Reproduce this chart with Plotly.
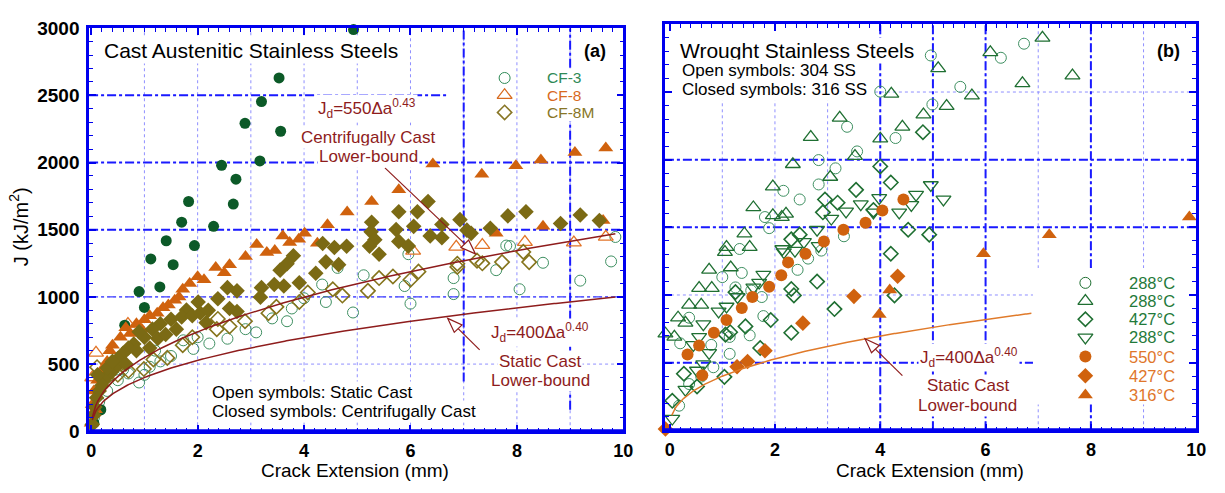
import numpy as np
import plotly.graph_objects as go

W, H = 1225, 493

# ---------------- panel (a): cast austenitic stainless steels ----------------
# CF-3, closed symbols (centrifugally cast)
cf3_c_x = [4.93, 3.85, 3.53, 3.20, 2.89, 3.56, 3.17, 2.45, 2.72, 2.67, 1.83, 1.70, 2.30,
           1.41, 1.94, 1.12, 1.54, 1.29, 0.90, 1.00, 0.63, 0.18, 0.05]
cf3_c_j = [2990, 2790, 2630, 2454, 2292, 2233, 2012, 1979, 1876, 1691, 1710, 1556, 1525,
           1418, 1382, 1283, 1240, 1074, 1040, 922, 789, 160, 60]

# CF-8, closed symbols
cf8_c_x = [6.42, 7.34, 7.98, 8.45, 9.09, 9.67, 5.78, 5.27, 4.81, 4.44, 4.01, 3.60, 3.73,
           3.11, 7.61, 8.49, 9.62, 2.34, 2.12, 1.72, 1.57, 1.24, 0.73, 0.40, 2.90, 2.60,
           3.30, 2.00, 1.85, 1.45, 1.10, 1.00, 0.85, 0.65, 0.55, 0.30, 0.20, 0.12, 0.05,
           0.02, 0.00, 0.08, 0.35, 0.95, 1.35, 1.65, 2.50, 3.90, 4.25, 3.45]
cf8_c_j = [1990, 1912, 1976, 2019, 2074, 2109, 1798, 1710, 1632, 1537, 1473, 1454, 1404,
           1390, 1473, 1525, 1568, 1218, 1128, 1057, 976, 879, 727, 641, 1300, 1240,
           1330, 1150, 1100, 940, 860, 830, 800, 770, 700, 520, 450, 380, 300,
           200, 60, 160, 600, 760, 920, 1000, 1180, 1430, 1400, 1345]

# CF-8M, closed symbols
cf8m_c_x = [6.33, 5.78, 6.13, 6.59, 6.06, 5.27, 5.73, 6.37, 6.59, 6.93, 7.06, 7.14, 7.50,
            7.83, 8.17, 8.82, 9.19, 9.55, 5.26, 5.33, 5.78, 4.35, 4.57, 4.80, 5.96, 5.41,
            5.23, 4.65, 4.41, 4.22, 3.80, 3.68, 3.55, 3.44, 3.91, 3.62, 3.20, 3.18, 2.74,
            2.56, 2.38, 2.74, 2.60, 2.16, 2.01, 1.79, 1.50, 1.30, 1.15, 1.00, 0.90, 0.80,
            0.70, 0.60, 0.50, 0.45, 0.35, 0.30, 0.25, 0.20, 0.15, 0.10, 0.07, 0.05, 0.02,
            0.12, 0.40, 0.65, 0.85, 1.10, 1.25, 1.40, 1.60, 1.70, 1.90, 2.05, 2.20]
cf8m_c_j = [1710, 1634, 1634, 1539, 1525, 1556, 1501, 1454, 1440, 1575, 1497, 1473, 1511,
            1603, 1634, 1546, 1610, 1568, 1484, 1425, 1413, 1397, 1368, 1377, 1378, 1318,
            1378, 1240, 1261, 1176, 1306, 1247, 1199, 1092, 1105, 1081, 1069, 998, 1045,
            1069, 986, 891, 914, 808, 962, 903, 834, 800, 760, 700, 740, 650,
            620, 580, 540, 470, 430, 470, 380, 340, 300, 250, 180, 120, 50,
            420, 520, 500, 600, 620, 690, 720, 760, 850, 860, 880, 900]

# CF-3, open symbols (static cast)
cf3_o_x = [9.77, 9.19, 8.49, 8.05, 7.87, 7.61, 6.81, 6.81, 6.00, 5.89, 5.96, 5.12, 4.92,
           4.63, 4.34, 4.41, 3.77, 3.68, 3.10, 2.56, 2.22, 1.92, 1.73, 0.90, 9.85, 7.80,
           1.50, 1.30, 1.10, 0.70, 0.50, 0.30, 0.15, 0.05, 2.90, 3.40, 2.00, 1.20, 0.60,
           1.00, 4.00]
cf3_o_j = [1264, 1121, 1254, 1057, 1378, 1199, 1140, 1021, 950, 1081, 1318, 1161, 884,
           1216, 1092, 962, 914, 819, 736, 689, 653, 613, 677, 363, 1446, 1382,
           560, 520, 480, 430, 380, 300, 220, 100, 760, 840, 700, 600, 460,
           420, 990]

# CF-8, open symbols
cf8_o_x = [9.07, 9.67, 8.15, 7.35, 6.86, 6.05, 0.09, 0.69, 0.02, 0.20]
cf8_o_j = [1404, 1447, 1408, 1386, 1372, 1342, 584, 798, 400, 450]

# CF-8M, open symbols
cf8m_o_x = [8.23, 8.12, 7.72, 7.35, 7.25, 6.88, 6.88, 6.15, 6.00, 5.67, 5.41, 5.20, 4.72,
            4.54, 4.07, 3.91, 3.48, 3.33, 2.89, 2.38, 2.36, 1.72, 1.43, 1.17, 0.99, 0.11,
            0.30, 0.50, 0.70, 1.90, 2.60]
cf8m_o_j = [1259, 1335, 1259, 1250, 1270, 1223, 1247, 1188, 1128, 1152, 1140, 1045, 1010,
            1057, 1033, 962, 926, 879, 819, 836, 760, 641, 546, 534, 463, 477,
            380, 420, 450, 700, 780]

# lower-bound curves, J_d = C * da^n
jd_centrifugal = (550.0, 0.43)
jd_static = (400.0, 0.40)

# ---------------- panel (b): wrought stainless steels ----------------
ss304_288a_x = [6.73, 6.29, 4.96, 5.52, 4.99, 4.00, 4.29, 3.37, 3.56, 2.83, 3.15, 2.83, 2.16,
                2.47, 1.81, 1.89, 3.31, 2.63, 2.43, 2.88, 1.33, 1.37, 1.00, 1.25, 1.55, 1.75,
                1.78, 1.52, 1.14, 1.14, 0.79, 0.83, 0.37, 0.20, 0.37, 0.18, 0.60]
ss304_288a_j = [2857, 2753, 2770, 2538, 2408, 2503, 2160, 2243, 2061, 1997, 1936, 1817, 1770,
                1706, 1576, 1494, 1434, 1269, 1186, 1328, 1340, 1163, 1132, 1056, 1033, 985,
                844, 702, 690, 565, 631, 466, 832, 643, 342, 182, 397]

ss304_288b_x = [7.08, 6.09, 5.10, 7.65, 6.70, 5.74, 5.26, 4.82, 4.21, 4.42, 4.00, 3.23, 2.68,
                3.52, 2.34, 3.05, 1.96, 1.59, 1.96, 2.21, 2.13, 1.42, 1.08, 1.52, 1.05, 0.75,
                1.16, 0.56, 0.80, 0.37, 0.60, 0.16, 0.30, -0.08, 0.09]
ss304_288b_j = [2900, 2793, 2675, 2621, 2564, 2474, 2396, 2333, 2486, 2243, 2155, 2309, 2167,
                2026, 1966, 1872, 1801, 1647, 1588, 1600, 1576, 1453, 1354, 1354, 1317, 1186,
                1203, 1051, 1051, 927, 927, 832, 794, 714, 690]

ss304_427_x = [4.81, 4.00, 4.20, 3.54, 2.95, 3.19, 2.91, 3.87, 4.53, 4.93, 2.47, 2.31, 4.20,
               2.80, 2.31, 2.36, 4.27, 3.13, 1.92, 2.31, 1.44, 1.06, 1.15, 1.72, 1.04, 0.27,
               0.52, 0.05, 1.25]
ss304_427_j = [2203, 1950, 1831, 1777, 1706, 1682, 1611, 1628, 1482, 1446, 1446, 1411, 1305,
               1099, 1044, 997, 997, 896, 815, 721, 768, 707, 725, 608, 395, 418,
               324, 218, 1021]

ss304_288c_x = [4.96, 5.20, 4.68, 4.59, 3.98, 4.36, 3.63, 3.87, 3.35, 3.07, 2.80, 2.55, 2.14,
                2.83, 2.38, 2.17, 1.78, 1.70, 1.59, 1.29, 1.08, 0.93, 0.64, 0.75, 0.64, 0.52,
                0.30, 0.05, 0.45, 0.56]
ss304_288c_j = [1813, 1706, 1742, 1666, 1718, 1611, 1671, 1611, 1618, 1565, 1482, 1392, 1340,
                1363, 1328, 1317, 1151, 1092, 1056, 985, 915, 879, 785, 572, 489, 442,
                300, 87, 631, 690]

ss316_550_x = [4.44, 4.04, 3.72, 3.30, 2.93, 2.58, 2.25, 2.12, 1.89, 1.57, 1.37, 1.08, 0.84,
               0.56, 0.34, 0.62]
ss316_550_j = [1706, 1624, 1534, 1482, 1395, 1305, 1241, 1146, 1061, 985, 903, 815, 721,
               626, 560, 406]

ss316_427_x = [4.33, 3.50, 2.53, 1.81, 1.48, 1.28, -0.08]
ss316_427_j = [1139, 990, 792, 588, 508, 470, 10]

ss316_316_x = [9.87, 7.21, 5.96, 4.18, 3.98]
ss316_316_j = [1576, 1446, 1305, 1037, 856]

# legend labels
legend_a_labels = ["CF-3", "CF-8", "CF-8M"]
legend_b_labels = ["288°C", "288°C", "427°C", "288°C", "550°C", "427°C", "316°C"]

# ---------------- styling ----------------
BLUE = "#0000ee"
GRID_THIN = "#8f8fff"
GRID_THICK = "#1a1aff"
GREEN_D = "#0c5a28"
GREEN_O = "#3f9062"
GREEN_W = "#1f6f32"
ORANGE = "#d0620e"
ORANGE_O = "#e27428"
OLIVE = "#7b6a14"
OLIVE_O = "#85741c"
DARKRED = "#8e1c1c"
FONT = "Liberation Sans, Arial, sans-serif"

# plot-area placement in pixels
A_LEFT, A_RIGHT, A_TOP, A_BOTTOM = 87, 627, 19, 440
B_LEFT, B_RIGHT, B_TOP, B_BOTTOM = 669, 1206, 15, 439
xa_min, xa_max = -0.04, 10.0
xb_min, xb_max = -0.09, 10.0


def px(x):
    return x / W


def py(y):
    return 1 - y / H


def to_px_a(x, j):
    return (A_LEFT + (x - xa_min) / (xa_max - xa_min) * (A_RIGHT - A_LEFT),
            A_BOTTOM - j / 3000 * (A_BOTTOM - A_TOP))


def to_px_b(x, j):
    return (B_LEFT + (x - xb_min) / (xb_max - xb_min) * (B_RIGHT - B_LEFT),
            B_BOTTOM - j / 3000 * (B_BOTTOM - B_TOP))


fig = go.Figure()


def scatter(x, y, symbol, color, size, xa="x", ya="y", lw=1.0):
    fig.add_trace(go.Scatter(
        x=x, y=y, mode="markers", xaxis=xa, yaxis=ya, showlegend=False,
        cliponaxis=False,
        marker=dict(symbol=symbol, size=size, color=color,
                    line=dict(color=color, width=lw)),
    ))


# panel (a) markers
scatter(cf3_o_x, cf3_o_j, "circle-open", GREEN_O, 11)
scatter(cf8_o_x, cf8_o_j, "triangle-up-open", ORANGE_O, 13, lw=1.3)
scatter(cf8m_o_x, cf8m_o_j, "diamond-open", OLIVE_O, 11, lw=1.6)
scatter(cf3_c_x, cf3_c_j, "circle", GREEN_D, 11, lw=0)
scatter(cf8_c_x, cf8_c_j, "triangle-up", ORANGE, 13, lw=0)
scatter(cf8m_c_x, cf8m_c_j, "diamond", OLIVE, 12, lw=0)

# panel (a) lower-bound curves
da_a = np.linspace(0.02, 9.85, 300)
for c, n in (jd_centrifugal, jd_static):
    fig.add_trace(go.Scatter(x=da_a, y=c * da_a ** n, mode="lines", showlegend=False,
                             xaxis="x", yaxis="y",
                             line=dict(color=DARKRED, width=1.5)))

# panel (b) markers
scatter(ss304_288a_x, ss304_288a_j, "circle-open", GREEN_O, 11, "x2", "y2")
scatter(ss304_288b_x, ss304_288b_j, "triangle-up-open", GREEN_W, 13, "x2", "y2", lw=1.3)
scatter(ss304_427_x, ss304_427_j, "diamond-open", GREEN_W, 11, "x2", "y2", lw=1.6)
scatter(ss304_288c_x, ss304_288c_j, "triangle-down-open", GREEN_W, 13, "x2", "y2", lw=1.3)
scatter(ss316_550_x, ss316_550_j, "circle", ORANGE, 12, "x2", "y2", lw=0)
scatter(ss316_427_x, ss316_427_j, "diamond", ORANGE, 12, "x2", "y2", lw=0)
scatter(ss316_316_x, ss316_316_j, "triangle-up", ORANGE, 13, "x2", "y2", lw=0)

da_b = np.linspace(0.04, 6.87, 300)
c, n = jd_static
fig.add_trace(go.Scatter(x=da_b, y=c * da_b ** n, mode="lines", showlegend=False,
                         xaxis="x2", yaxis="y2",
                         line=dict(color="#e07a2a", width=1.5)))

# legend keys, drawn on a page-sized overlay axis (pixel units)
LEG_A_X, LEG_A_ROWS = 507, [71, 89, 107]
LEG_B_X, LEG_B_ROWS = 1094, [285, 304, 323, 342, 362, 382, 402]
leg_a_style = [("circle-open", "#2e8a56", 11, 1.0), ("triangle-up-open", "#d86a1e", 13, 1.3),
               ("diamond-open", "#887626", 11, 1.6)]
leg_b_style = [("circle-open", GREEN_W, 11, 1.0), ("triangle-up-open", GREEN_W, 13, 1.3),
               ("diamond-open", GREEN_W, 11, 1.6), ("triangle-down-open", GREEN_W, 13, 1.3),
               ("circle", ORANGE, 12, 0), ("diamond", ORANGE, 12, 0),
               ("triangle-up", ORANGE, 13, 0)]
for (sym, col, size, lw), row in zip(leg_a_style, LEG_A_ROWS):
    scatter([LEG_A_X], [row], sym, col, size, "x3", "y3", lw)
for (sym, col, size, lw), row in zip(leg_b_style, LEG_B_ROWS):
    scatter([LEG_B_X], [row], sym, col, size, "x3", "y3", lw)

# ---------------- grid lines (drawn as shapes) ----------------
shapes = []


def vline(x, y0, y1, xa, ya, thick):
    shapes.append(dict(type="line", xref=xa, yref=ya, x0=x, x1=x, y0=y0, y1=y1, layer="below",
                       line=dict(color=GRID_THICK if thick else GRID_THIN,
                                 width=2 if thick else 1,
                                 dash="dashdot" if thick else "dot")))


def hline(y, x0, x1, xa, ya, thick):
    shapes.append(dict(type="line", xref=xa, yref=ya, x0=x0, x1=x1, y0=y, y1=y, layer="below",
                       line=dict(color=GRID_THICK if thick else GRID_THIN,
                                 width=2 if thick else 1,
                                 dash="dashdot" if thick else "dot")))


for k in range(1, 10):
    vline(k, 0, 3000, "x", "y", False)
    vline(k, 0, 3000, "x2", "y2", False)
for v in (500, 1000, 1500, 2000):
    hline(v, xa_min, xa_max, "x", "y", False)
    hline(v, xb_min, xb_max, "x2", "y2", False)
hline(2500, xa_min, 6.7, "x", "y", False)
hline(2500, xb_min, xb_max, "x2", "y2", False)

# heavier dash-dot lines, panel (a)
hline(2500, xa_min, 6.7, "x", "y", True)
hline(2000, xa_min, xa_max, "x", "y", True)
hline(1500, xa_min, xa_max, "x", "y", True)
shapes.append(dict(type="line", xref="x", yref="y", x0=xa_min, x1=xa_max, y0=1000, y1=1000,
                   layer="below", line=dict(color="#4040ff", width=1.2, dash="dashdot")))
vline(7, 370, 3000, "x", "y", True)
vline(9, 160, 3000, "x", "y", True)

# heavier dash-dot lines, panel (b)
for v in (2000, 1500, 500):
    hline(v, xb_min, xb_max, "x2", "y2", True)
for k in (4, 5, 6, 8):
    vline(k, 0, 3000, "x2", "y2", True)

# blank areas behind the panel (b) heading and legend
shapes.append(dict(type="rect", xref="x2", yref="y2", x0=xb_min, x1=3.86, y0=2440, y1=3000,
                   layer="below", fillcolor="white", line=dict(width=0)))
shapes.append(dict(type="rect", xref="x2", yref="y2", x0=6.9, x1=xb_max, y0=190, y1=1200,
                   layer="below", fillcolor="white", line=dict(width=0)))

# heavier bottom axis line
for xa, ya in (("x domain", "y domain"), ("x2 domain", "y2 domain")):
    shapes.append(dict(type="line", xref=xa, yref=ya, x0=0, x1=1, y0=0, y1=0, layer="above",
                       line=dict(color=BLUE, width=4)))


# pointer arrows with hollow heads
def pointer(tip, tail, color, head_len=15, head_half=5.5):
    (tx, ty), (sx, sy) = tip, tail
    dx, dy = tx - sx, ty - sy
    dist = (dx * dx + dy * dy) ** 0.5
    ux, uy = dx / dist, dy / dist
    bx, by = tx - ux * head_len, ty - uy * head_len
    nx, ny = -uy, ux
    p1 = (bx + nx * head_half, by + ny * head_half)
    p2 = (bx - nx * head_half, by - ny * head_half)
    shapes.append(dict(type="line", xref="paper", yref="paper",
                       x0=px(sx), y0=py(sy), x1=px(bx), y1=py(by), layer="above",
                       line=dict(color=color, width=1.2)))
    path = (f"M{px(tx)},{py(ty)} L{px(p1[0])},{py(p1[1])} "
            f"L{px(p2[0])},{py(p2[1])} Z")
    shapes.append(dict(type="path", xref="paper", yref="paper", path=path, layer="above",
                       fillcolor="white", line=dict(color=color, width=1.2)))


pointer(to_px_a(7.22, 1320), to_px_a(5.52, 1960), DARKRED)
pointer(to_px_a(6.70, 840), to_px_a(7.30, 606), DARKRED)
pointer(to_px_b(3.71, 676), to_px_b(4.42, 404), DARKRED)

# ---------------- text ----------------
ann = []


def text(s, x, y, size=17, color="black", xanchor="center", bg=None, bold=False, angle=0,
         yanchor="middle", pad=1):
    ann.append(dict(text=f"<b>{s}</b>" if bold else s, x=px(x), y=py(y), xref="paper",
                    yref="paper", xanchor=xanchor, yanchor=yanchor, showarrow=False,
                    textangle=angle, font=dict(family=FONT, size=size, color=color),
                    bgcolor=bg, borderpad=pad))


# panel (a)
text("Cast Austenitic Stainless Steels", 100, 42, size=21, xanchor="left", bg="white")
text("(a)", 598, 43, size=18, bold=True)
for label, col, row in zip(legend_a_labels, ["#2e8a56", "#d86a1e", "#887626"], LEG_A_ROWS):
    text(label, 549, row, size=15.5, color=col, xanchor="left", bg="white", pad=0)

text("J<sub>d</sub>=550Δa<sup>0.43</sup>", 368, 103, color=DARKRED, bg="white")
text("Centrifugally Cast", 369, 133, color=DARKRED, bg="white")
text("Lower-bound", 369, 153, color=DARKRED, bg="white")

text("J<sub>d</sub>=400Δa<sup>0.40</sup>", 543, 337, color=DARKRED, bg="white")
text("Static Cast", 543, 367, color=DARKRED, bg="white")
text("Lower-bound", 543, 387, color=DARKRED, bg="white")

text("Open symbols: Static Cast", 209, 400, xanchor="left", bg="white")
text("Closed symbols: Centrifugally Cast", 209, 419, xanchor="left", bg="white")

text("Crack Extension (mm)", 356, H, size=19, yanchor="bottom", pad=0)
text("J (kJ/m<sup>2</sup>)", 16, 226, size=20, angle=-90)

# panel (b)
text("Wrought Stainless Steels", 682, 42, size=21, xanchor="left", bg="white")
text("(b)", 1178, 43, size=18, bold=True)
text("Open symbols: 304 SS", 684, 63, size=17, xanchor="left", bg="white")
text("Closed symbols: 316 SS", 684, 83, size=17, xanchor="left", bg="white")

for i, (label, row) in enumerate(zip(legend_b_labels, LEG_B_ROWS)):
    col = "#1f7a3a" if i < 4 else "#e0762a"
    text(label, 1137, row, size=16.5, color=col, xanchor="left", pad=0)

text("J<sub>d</sub>=400Δa<sup>0.40</sup>", 976, 363, color=DARKRED, bg="white")
text("Static Cast", 975, 392, color=DARKRED, bg="white")
text("Lower-bound", 975, 413, color=DARKRED, bg="white")

text("Crack Extension (mm)", 937, H, size=19, yanchor="bottom", pad=0)

# ---------------- axes ----------------
tick_font = dict(family=FONT, size=19, color="black", weight="bold")


def xaxis(domain, rng, anchor):
    return dict(domain=domain, range=list(rng), anchor=anchor, tickvals=[0, 2, 4, 6, 8, 10],
                ticks="inside", ticklen=7, tickwidth=1.5, tickcolor=BLUE,
                minor=dict(dtick=0.2, tick0=0, ticks="inside", ticklen=4, tickwidth=1,
                           tickcolor=BLUE, showgrid=False),
                showline=True, linecolor=BLUE, linewidth=2.5, mirror="ticks",
                showgrid=False, zeroline=False, tickfont=dict(tick_font, size=18),
                fixedrange=True, ticklabelstandoff=1)


def yaxis(domain, anchor, labels):
    return dict(domain=domain, range=[0, 3000], anchor=anchor, dtick=500, tick0=0,
                ticks="inside", ticklen=7, tickwidth=1.5, tickcolor=BLUE,
                minor=dict(dtick=100, tick0=0, ticks="inside", ticklen=4, tickwidth=1,
                           tickcolor=BLUE, showgrid=False),
                showline=True, linecolor=BLUE, linewidth=2.5, mirror="ticks",
                showgrid=False, zeroline=False, showticklabels=labels,
                tickfont=tick_font, fixedrange=True, ticklabelstandoff=3)


overlay = dict(domain=[0, 1], visible=False, showgrid=False, zeroline=False, fixedrange=True,
               showticklabels=False, ticks="", showline=False)

fig.update_layout(
    width=W, height=H, margin=dict(l=0, r=0, t=0, b=0),
    paper_bgcolor="white", plot_bgcolor="rgba(0,0,0,0)",
    xaxis=xaxis([px(A_LEFT), px(A_RIGHT)], (xa_min, xa_max), "y"),
    yaxis=yaxis([py(A_BOTTOM), py(A_TOP)], "x", True),
    xaxis2=xaxis([px(B_LEFT), px(B_RIGHT)], (xb_min, xb_max), "y2"),
    yaxis2=yaxis([py(B_BOTTOM), py(B_TOP)], "x2", False),
    xaxis3=dict(overlay, range=[0, W], anchor="y3"),
    yaxis3=dict(overlay, range=[H, 0], anchor="x3"),
    shapes=shapes, annotations=ann, showlegend=False,
)

fig.write_html("out.html")
